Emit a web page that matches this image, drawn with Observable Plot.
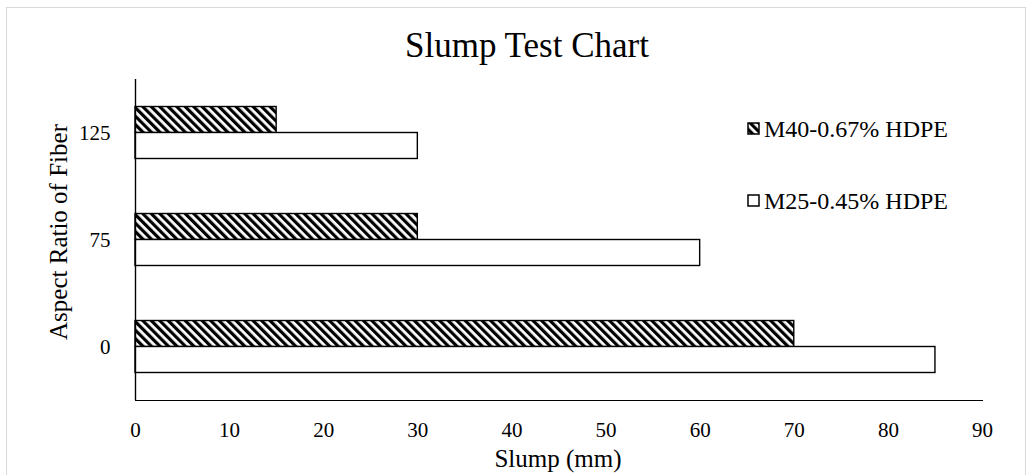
<!DOCTYPE html>
<html>
<head>
<meta charset="utf-8">
<script src="https://cdn.jsdelivr.net/npm/d3@7"></script>
<script src="https://cdn.jsdelivr.net/npm/@observablehq/plot@0.6"></script>
<style>
  body { margin: 0; background: #fff; }
  #wrap { position: relative; width: 1035px; height: 475px; overflow: hidden; background: #fff;
          font-family: "Liberation Serif", "Times New Roman", serif; color: #000; }
  #border { position: absolute; left: 6px; top: 7px; width: 1020px; height: 480px; border: 1.5px solid #d9d9d9; box-sizing: border-box; }
  #chart { position: absolute; left: 0; top: 0; }
  .txt { position: absolute; white-space: nowrap; line-height: 1; }
  #title { font-size: 35px; left: 527px; top: 28px; transform: translateX(-50%); }
  #xlabel { font-size: 25px; left: 558px; top: 446px; transform: translateX(-50%); }
  #ylabel { font-size: 25px; left: 58px; top: 232px; transform: translate(-50%, -50%) rotate(-90deg); }
  .leg { font-size: 24px; }
  .sw { position: absolute; }
</style>
</head>
<body>
<div id="wrap">
  <div id="border"></div>
  <div id="chart"></div>
  <div class="txt" id="title">Slump Test Chart</div>
  <div class="txt" id="xlabel">Slump (mm)</div>
  <div class="txt" id="ylabel">Aspect Ratio of Fiber</div>
  <div id="legend"></div>
</div>
<script>
// ---- data ----
const categories = ["125", "75", "0"];
const seriesNames = ["M40-0.67% HDPE", "M25-0.45% HDPE"];
const m40Values = [15, 30, 70];
const m25Values = [30, 60, 85];
const xTicks = [0, 10, 20, 30, 40, 50, 60, 70, 80, 90];

const rows = [];
categories.forEach((c, i) => {
  rows.push({cat: c, series: seriesNames[0], value: m40Values[i]});
  rows.push({cat: c, series: seriesNames[1], value: m25Values[i]});
});

const plot = Plot.plot({
  width: 1035,
  height: 475,
  marginLeft: 135,
  marginRight: 53,
  marginTop: 79,
  marginBottom: 75,
  style: {fontFamily: "'Liberation Serif', 'Times New Roman', serif", fontSize: "21px", color: "#000", background: "transparent", overflow: "visible"},
  x: {domain: [0, 90], ticks: xTicks, tickSize: 0, tickPadding: 22, label: null, line: true},
  y: {domain: seriesNames, paddingInner: 0, paddingOuter: 1.058, round: false, axis: null},
  fy: {domain: categories, padding: 0, axis: "left", tickSize: 0, tickPadding: 25, label: null, round: false},
  color: {domain: seriesNames, range: ["url(#hatch)", "white"]},
  marks: [
    Plot.barX(rows, {fy: "cat", y: "series", x: "value", fill: "series", stroke: "black", strokeWidth: 1.4}),
    Plot.ruleX([0], {stroke: "black", strokeWidth: 1.4})
  ]
});

// hatch pattern definition
const ns = "http://www.w3.org/2000/svg";
const defs = document.createElementNS(ns, "defs");
defs.innerHTML = '<pattern id="hatch" patternUnits="userSpaceOnUse" width="6" height="6" patternTransform="rotate(-45)">' +
  '<rect width="6" height="6" fill="white"/><rect width="3.2" height="6" fill="black"/></pattern>';
plot.insertBefore(defs, plot.firstChild);
document.getElementById("chart").appendChild(plot);

// legend
const legend = document.getElementById("legend");
const legendTops = [117, 189];
seriesNames.slice().forEach((name, i) => {
  const t = document.createElement("div");
  t.className = "txt leg";
  t.style.left = "764px";
  t.style.top = legendTops[i] + "px";
  t.textContent = name;
  legend.appendChild(t);
  const s = document.createElementNS(ns, "svg");
  s.setAttribute("class", "sw");
  s.setAttribute("width", 14);
  s.setAttribute("height", 14);
  s.style.left = "747px";
  s.style.top = (legendTops[i] + 5) + "px";
  const r = document.createElementNS(ns, "rect");
  r.setAttribute("x", 1); r.setAttribute("y", 1);
  r.setAttribute("width", 11); r.setAttribute("height", 11);
  r.setAttribute("fill", i === 0 ? "url(#hatch)" : "white");
  r.setAttribute("stroke", "black");
  r.setAttribute("stroke-width", 1.5);
  s.appendChild(r);
  legend.appendChild(s);
});
</script>
</body>
</html>
